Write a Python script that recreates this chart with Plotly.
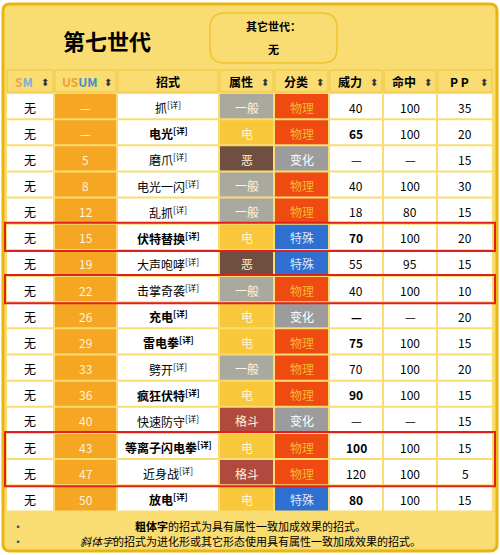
import plotly.graph_objects as go

sm = ["无"] * 16
usum = ["—", "—", "5", "8", "12", "15", "19", "22", "26", "29", "33", "36", "40", "43", "47", "50"]
moves = ["抓", "电光", "磨爪", "电光一闪", "乱抓", "伏特替换", "大声咆哮", "击掌奇袭", "充电",
         "雷电拳", "劈开", "疯狂伏特", "快速防守", "等离子闪电拳", "近身战", "放电"]
types = ["一般", "电", "恶", "一般", "一般", "电", "恶", "一般", "电", "电", "一般", "电", "格斗", "电", "格斗", "电"]
cats = ["物理", "物理", "变化", "物理", "物理", "特殊", "特殊", "物理", "变化", "物理", "物理", "物理", "变化", "物理", "物理", "特殊"]
power = ["40", "65", "—", "40", "18", "70", "55", "40", "—", "75", "70", "90", "—", "100", "120", "80"]
acc = ["100", "100", "—", "100", "80", "100", "95", "100", "—", "100", "100", "100", "—", "100", "100", "100"]
pp = ["35", "20", "15", "30", "15", "20", "15", "10", "20", "15", "20", "15", "15", "15", "5", "15"]
highlight = [[5, 5], [7, 7], [13, 14]]

type_col = {"一般": "#A9A9A0", "电": "#F8C83A", "恶": "#6F4F3F", "格斗": "#B04A3E"}
cat_col = {"物理": "#EE4A12", "特殊": "#2F6FCF", "变化": "#9C9C9C"}
cat_txt = {"物理": "#F8B830", "特殊": "#DDE8FF", "变化": "#FFFFFF"}

cols = [(7, 53), (55, 116), (118, 218), (220, 273), (275, 328), (330, 382), (384, 436), (438, 492)]
row_top, row_h = 94, 26.15
FONT = "Noto Sans CJK SC"

shapes, ann = [], []


def rect(x0, y0, x1, y1, fill, line=None, w=0):
    shapes.append(dict(type="rect", xref="x", yref="y", x0=x0, y0=y0, x1=x1, y1=y1,
                       fillcolor=fill, line=dict(color=line or fill, width=w), layer="below"))


def text(x, y, s, size=12, color="#000", bold=False):
    if bold:
        s = "<b>" + s + "</b>"
    ann.append(dict(x=x, y=y, xref="x", yref="y", text=s, showarrow=False,
                    font=dict(size=size, color=color, family=FONT)))


# outer frame
shapes.append(dict(type="path", xref="x", yref="y",
                   path="M 10 4 L 490 4 Q 497 4 497 11 L 497 544 Q 497 551 490 551 L 10 551 Q 3 551 3 544 L 3 11 Q 3 4 10 4 Z",
                   fillcolor="#F9DC72", line=dict(color="#E9B50E", width=3), layer="below"))
text(107, 40, "第七世代", 22, bold=True)
shapes.append(dict(type="path", xref="x", yref="y",
                   path="M 225 13 L 322 13 Q 337 13 337 28 L 337 49 Q 337 63 322 63 L 225 63 Q 210 63 210 49 L 210 28 Q 210 13 225 13 Z",
                   fillcolor="#F9DC72", line=dict(color="#EFC330", width=1.5), layer="below"))
text(273, 26, "其它世代：", 11, bold=True)
text(273, 49, "无", 11, bold=True)

# header row
headers = ["<span style='color:#F0A050'>S</span><span style='color:#7FB0D8'>M</span>",
           "<span style='color:#F0A030'>US</span><span style='color:#3A8FD0'>UM</span>",
           "招式", "属性", "分类", "威力", "命中", "P P"]
for i, (x0, x1) in enumerate(cols):
    rect(x0, 70, x1, 92, "#F9DC72", "#F3C640", 1)
    sortable = i != 2
    cx = (x0 + x1) / 2 - (6 if sortable else 0)
    text(cx, 81, headers[i], 12, bold=True)
    if sortable:
        text(x1 - 8, 81, "⬍", 10, color="#333")

# data rows
for r in range(16):
    y0 = row_top + r * row_h
    y1 = y0 + row_h - 2
    yc = (y0 + y1) / 2
    elec = types[r] == "电"
    vals = [sm[r], usum[r], moves[r] + "<sup>[详]</sup>", types[r], cats[r], power[r], acc[r], pp[r]]
    fills = ["#FFFFFF", "#F5A623", "#FFFFFF", type_col[types[r]], cat_col[cats[r]], "#FFFFFF", "#FFFFFF", "#FFFFFF"]
    for i, (x0, x1) in enumerate(cols):
        rect(x0, y0, x1, y1, fills[i])
        color = "#000"
        bold = False
        if i == 1 or i == 3:
            color = "#FFF5D8"
        if i == 4:
            color = cat_txt[cats[r]]
        if i in (2, 5) and elec:
            bold = True
        text((x0 + x1) / 2, yc + 1, vals[i], 12, color, bold)

# highlight boxes
for a, b in highlight:
    shapes.append(dict(type="rect", xref="x", yref="y", x0=5, x1=495,
                       y0=row_top + a * row_h - 2, y1=row_top + b * row_h + row_h,
                       line=dict(color="#E0201A", width=2)))

# notes
text(18, 526, "•", 12, "#205080")
text(18, 541, "•", 12, "#205080")
text(250, 526, "<b>粗体字</b>的招式为具有属性一致加成效果的招式。", 11)
text(250, 541, "<i>斜体字</i>的招式为进化形或其它形态使用具有属性一致加成效果的招式。", 11)

fig = go.Figure(go.Scatter(x=[0, 500], y=[0, 555], mode="markers", marker=dict(opacity=0),
                           hoverinfo="skip", showlegend=False))
fig.update_layout(width=500, height=555, margin=dict(l=0, r=0, t=0, b=0),
                  paper_bgcolor="white", plot_bgcolor="white",
                  xaxis=dict(range=[0, 500], visible=False, fixedrange=True),
                  yaxis=dict(range=[555, 0], visible=False, fixedrange=True),
                  shapes=shapes, annotations=ann)
fig.write_html("out.html", config={"displayModeBar": False},
               post_script="document.body.style.margin='0';document.body.style.overflow='hidden';")
